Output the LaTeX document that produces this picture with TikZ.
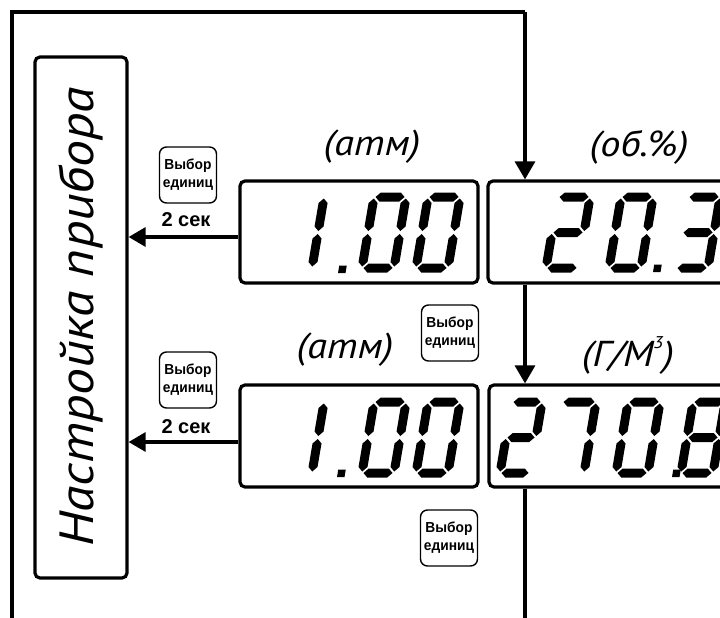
\documentclass[tikz,border=0pt]{standalone}
\usepackage{fontspec}
\setmainfont{Liberation Sans}
\newfontfamily\ptsans{PT Sans}[FakeStretch=1.12]
\newfontfamily\btnfam{Liberation Sans}[FakeStretch=0.95]
\usetikzlibrary{arrows.meta}
\newcommand\unitfont{\ptsans\itshape\fontsize{36}{40}\selectfont}
\newcommand\btnfont{\btnfam\bfseries\fontsize{14.5}{18}\selectfont}
\newcommand\secfont{\bfseries\fontsize{20}{22}\selectfont}
\newcommand\mytitlefont{\ptsans\itshape\fontsize{48}{56}\selectfont}
\newcommand\supthree{\raisebox{0.5em}{\fontsize{17}{17}\selectfont 3}}
% LCD segments (local coords, y up)
\newcommand{\hseg}[3]{\fill (#1+1.5,#3) -- (#1+6,#3+4.5) -- (#2-6,#3+4.5) -- (#2-1.5,#3) -- (#2-6,#3-4.5) -- (#1+6,#3-4.5) -- cycle;}
\newcommand{\vseg}[3]{\fill (#1,#2+1.5) -- (#1+4.5,#2+6) -- (#1+4.5,#3-6) -- (#1,#3-1.5) -- (#1-4.5,#3-6) -- (#1-4.5,#2+6) -- cycle;}
\newcommand{\SA}{\hseg{0}{\dw}{71}}
\newcommand{\SB}{\vseg{\dw}{35.5}{71}}
\newcommand{\SC}{\vseg{\dw}{0}{35.5}}
\newcommand{\SD}{\hseg{0}{\dw}{0}}
\newcommand{\SE}{\vseg{0}{0}{35.5}}
\newcommand{\SF}{\vseg{0}{35.5}{71}}
\newcommand{\SG}{\hseg{0}{\dw}{35.5}}
\newcommand{\lcd}[4]{\begin{scope}[shift={(#1,#2)},xslant=0.17,y=1pt]\def\dw{#3}#4\end{scope}}
\newcommand{\dpt}[2]{\lcd{#1}{#2}{0}{\fill (0,0) rectangle (7.5,7.5);}}
\newcommand{\Dzero}{\SA\SB\SC\SD\SE\SF}
\begin{document}
\begin{tikzpicture}[x=1pt,y=-1pt,
  outerline/.style={line width=3.2pt},
  dispbox/.style={draw, line width=3.2pt, rounded corners=5pt, inner sep=0pt},
  btnbox/.style={draw, line width=1.4pt, rounded corners=7pt, minimum width=57pt, minimum height=56pt, inner sep=0pt, align=center, font=\btnfont},
  arrowline/.style={line width=3.2pt, -{Triangle[length=17pt,width=19pt]}},
  downarrow/.style={line width=3.2pt, -{Triangle[length=18pt,width=20pt]}},
  unitlabel/.style={font=\unitfont, inner sep=0pt},
  seclabel/.style={font=\secfont, inner sep=0pt}]
\useasboundingbox (0,0) rectangle (720,618);
\clip (0,0) rectangle (720,618);
% boxes
\node[dispbox, minimum width=92pt, minimum height=521pt] (L) at (81,317.5) {};
\node[rotate=90, font=\mytitlefont, inner sep=0pt] (Ltext) at (81,317) {Настройка прибора};
\node[dispbox, minimum width=238pt, minimum height=102pt] (d1) at (359,232) {};
\node[dispbox, minimum width=280pt, minimum height=102pt] (d2) at (628,232) {};
\node[dispbox, minimum width=238pt, minimum height=102pt] (d3) at (359,436) {};
\node[dispbox, minimum width=280pt, minimum height=102pt] (d4) at (629,436) {};
% buttons
\node[btnbox] (b1) at (188,175) {Выбор\\единиц};
\node[btnbox] (b2) at (188,380) {Выбор\\единиц};
\node[btnbox] (b3) at (450,333) {Выбор\\единиц};
\node[btnbox] (b4) at (449,538) {Выбор\\единиц};
\node[seclabel] (s1) at (186,220) {2 сек};
\node[seclabel] (s2) at (186,427) {2 сек};
% unit labels
\node[unitlabel] (u1) at (372,147) {(атм)};
\node[unitlabel] (u2) at (639,147) {(об.\%)};
\node[unitlabel] (u3) at (345,350) {(атм)};
\node[unitlabel] (u4) at (628,356) {(Г/М\supthree)};
% connectors
\coordinate (fbl) at (12,630);
\coordinate (ftl) at (12,12);
\coordinate (ftr) at (525,12);
\draw[outerline] (fbl) -- (ftl) -- (ftr);
\draw[downarrow] (ftr) -- (ftr |- d2.north);
\draw[downarrow] (ftr |- d2.south) -- (ftr |- d4.north);
\draw[outerline] (ftr |- d4.south) -- (ftr |- fbl);
\coordinate (a1) at ([yshift=-5pt]d1.west);
\coordinate (a2) at ([yshift=-6pt]d3.west);
\draw[arrowline] (a1) -- (a1 -| L.east);
\draw[arrowline] (a2) -- (a2 -| L.east);
% digits display 1: 1.00
\lcd{280}{268}{32}{\SB\SC}
\dpt{338}{273}
\lcd{362}{268}{32}{\Dzero}
\lcd{416}{268}{32}{\Dzero}
% display 2: 20.3
\lcd{546}{268}{32}{\SA\SB\SG\SE\SD}
\lcd{609}{268}{32}{\Dzero}
\dpt{653}{272}
\lcd{676}{268}{32}{\SA\SB\SG\SC\SD}
% display 3: 1.00
\lcd{280}{473}{32}{\SB\SC}
\dpt{337}{477}
\lcd{362}{473}{32}{\Dzero}
\lcd{416}{473}{32}{\Dzero}
% display 4: 270.8
\lcd{500}{473}{30}{\SA\SB\SG\SE\SD}
\lcd{550}{473}{34}{\SA\SB\SC}
\lcd{616}{473}{32}{\Dzero}
\dpt{672}{477}
\lcd{681}{473}{32}{\Dzero\SG}
\end{tikzpicture}
\end{document}
